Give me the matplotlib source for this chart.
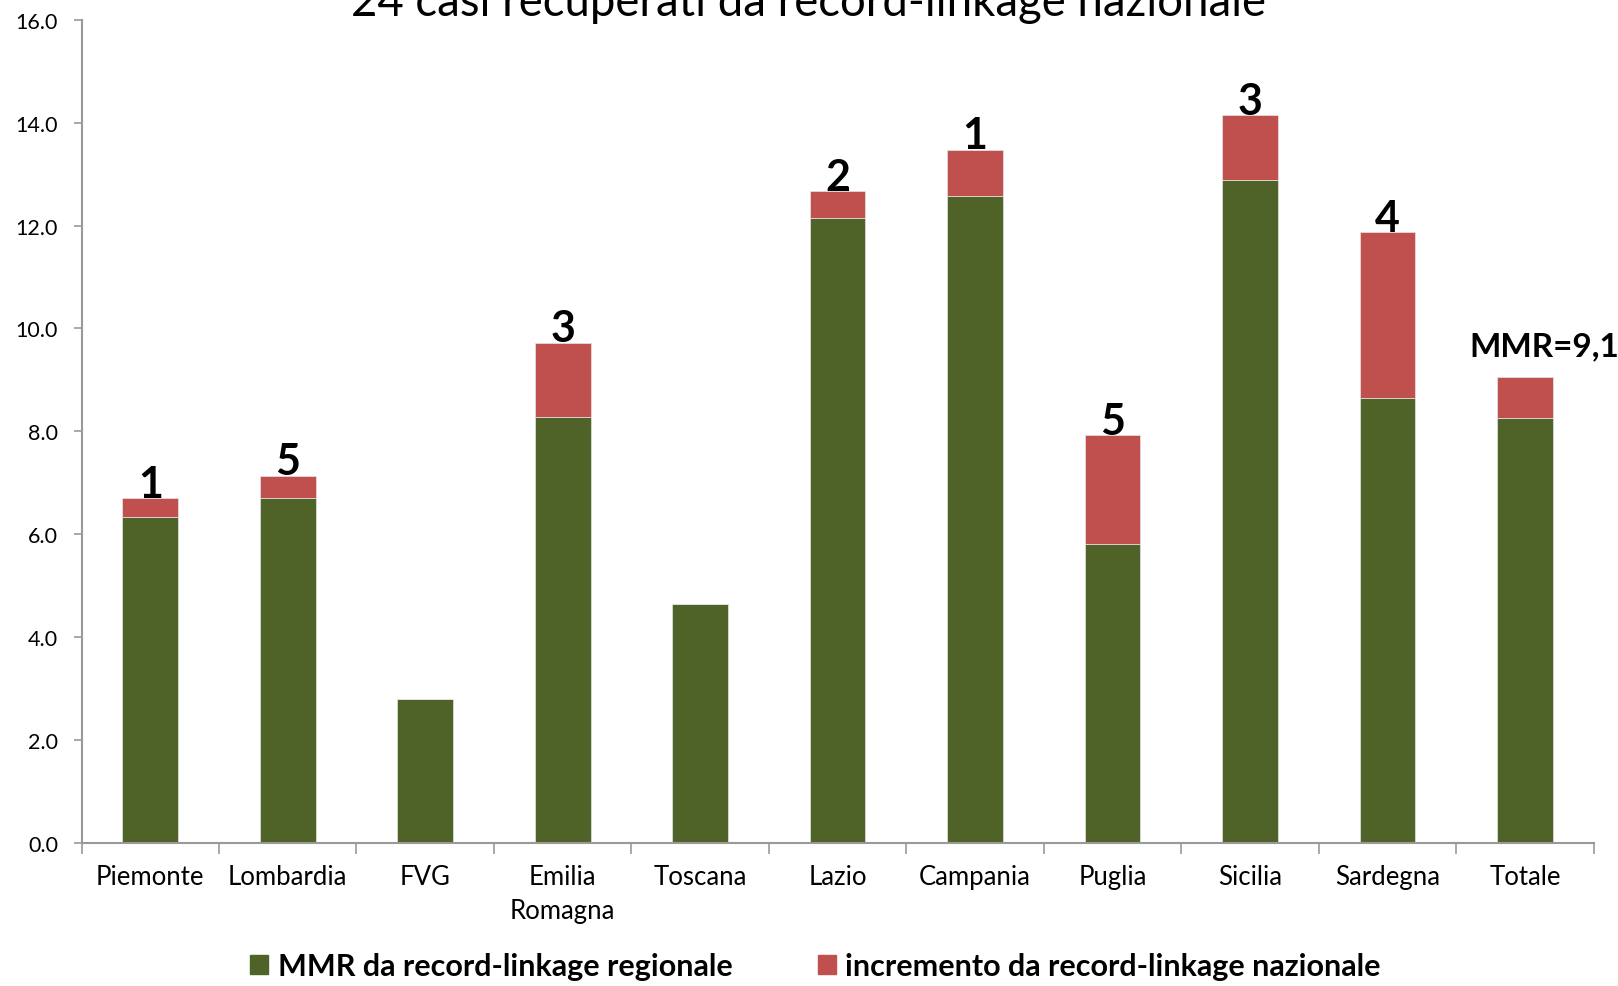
import numpy as np
import matplotlib
matplotlib.use('Agg')
from matplotlib import pyplot as plt
from matplotlib import font_manager
from matplotlib.patches import Patch

names = set(f.name for f in font_manager.fontManager.ttflist)
FAM = [n for n in ['Lato', 'Open Sans', 'DejaVu Sans'] if n in names]
plt.rcParams['font.family'] = FAM

regioni = ['Piemonte', 'Lombardia', 'FVG', 'Emilia\nRomagna', 'Toscana', 'Lazio',
           'Campania', 'Puglia', 'Sicilia', 'Sardegna', 'Totale']
mmr_regionale = [6.34, 6.70, 2.79, 8.28, 4.65, 12.15, 12.57, 5.81, 12.89, 8.64, 8.26]
mmr_totale = [6.70, 7.14, 2.79, 9.72, 4.65, 12.67, 13.47, 7.92, 14.14, 11.87, 9.06]
incremento = [t - r for t, r in zip(mmr_totale, mmr_regionale)]
casi_recuperati = ['1', '5', '', '3', '', '2', '1', '5', '3', '4', 'MMR=9,1']

VERDE = '#4F6228'
ROSSO = '#C0504D'

fig = plt.figure(figsize=(16.18, 9.87), dpi=100)
ax = fig.add_axes([0.0504, 0.1449, 0.9346, 0.8341])

x = np.arange(len(regioni))
ax.bar(x, mmr_regionale, width=0.405, color=VERDE, edgecolor='#e6e6e6', linewidth=0.5,
       label='MMR da record-linkage regionale')
ax.bar(x, incremento, width=0.405, bottom=mmr_regionale, color=ROSSO, edgecolor='#e6e6e6',
       linewidth=0.5, label='incremento da record-linkage nazionale')

for i, lab in enumerate(casi_recuperati):
    if not lab:
        continue
    if lab.startswith('MMR'):
        ax.annotate(lab, (x[i], mmr_totale[i]), xytext=(-40, 12), textcoords='offset points',
                    ha='left', va='bottom', fontsize=24, fontweight='bold',
                    annotation_clip=False)
    else:
        ax.annotate(lab, (x[i], mmr_totale[i]), xytext=(0, -4), textcoords='offset points',
                    ha='center', va='bottom', fontsize=31, fontweight='bold')

ax.set_xlim(-0.5, len(regioni) - 0.5)
ax.set_ylim(0, 16)
ax.set_yticks(np.arange(0, 16.1, 2))
ax.set_yticklabels(['%.1f' % v for v in np.arange(0, 16.1, 2)], fontsize=15.5)
ax.set_xticks(x)
ax.set_xticklabels(regioni, fontsize=18.5, linespacing=1.45)
ax.set_xticks(np.arange(-0.5, len(regioni)), minor=True)
ax.tick_params(axis='x', which='major', length=0, pad=15)
ax.tick_params(axis='x', which='minor', length=8, color='#999999', width=1.2)
ax.tick_params(axis='y', length=6, color='#999999', width=1.2, pad=11)

for s in ['top', 'right']:
    ax.spines[s].set_visible(False)
for s in ['left', 'bottom']:
    ax.spines[s].set_color('#999999')
    ax.spines[s].set_linewidth(1.5)

fig.text(0.4995, 1 - 16 / 987, '24 casi recuperati da record-linkage nazionale',
         ha='center', va='baseline', fontsize=32.8)

handles = [Patch(color=VERDE), Patch(color=ROSSO)]
fig.legend(handles, ['MMR da record-linkage regionale', 'incremento da record-linkage nazionale'],
           loc='center', bbox_to_anchor=(0.504, 0.02), ncol=2, frameon=False,
           prop={'size': 22, 'weight': 'bold'}, handlelength=0.6, handleheight=0.6,
           handletextpad=0.3, columnspacing=2.8)

fig.savefig('out.png', dpi=100)
